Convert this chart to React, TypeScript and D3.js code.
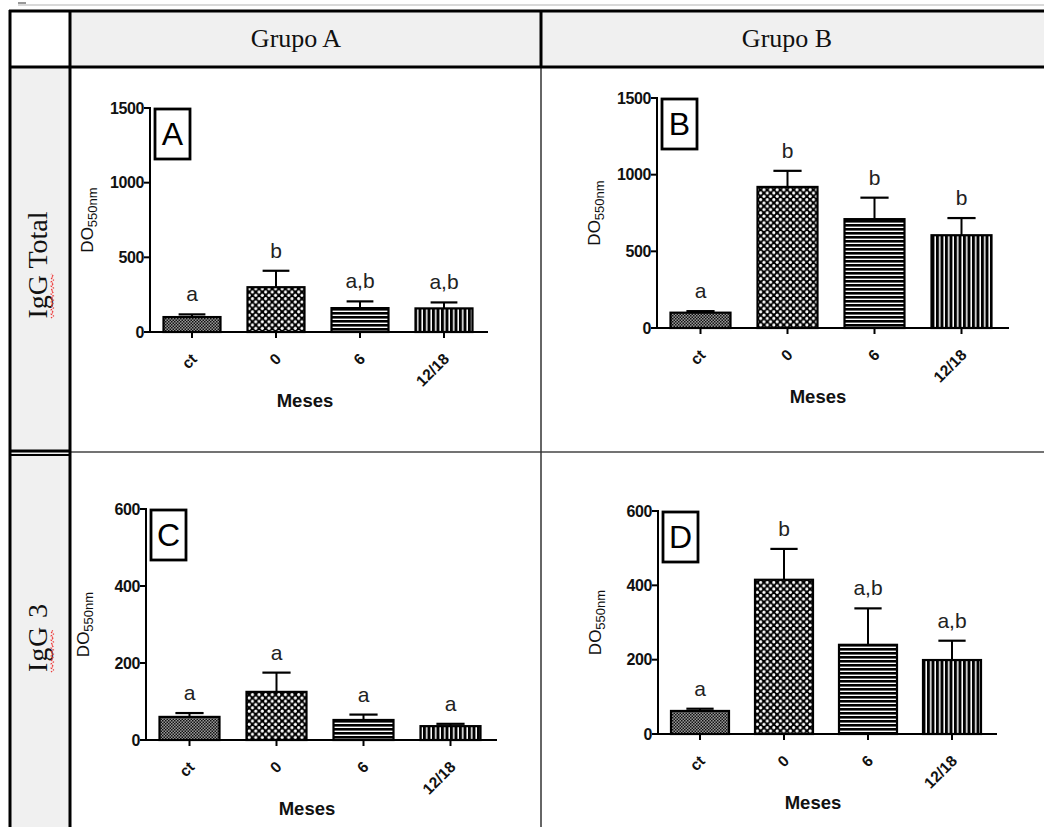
import React from "react";
import * as d3 from "d3";

const categories = ["ct", "0", "6", "12/18"];

// IgG Total
const totalA = [100, 300, 160, 158];
const totalAErr = [18, 110, 45, 40];
const totalALetters = ["a", "b", "a,b", "a,b"];
const totalB = [100, 920, 710, 605];
const totalBErr = [10, 105, 140, 112];
const totalBLetters = ["a", "b", "b", "b"];

// IgG 3
const igg3A = [60, 125, 52, 36];
const igg3AErr = [10, 50, 14, 6];
const igg3ALetters = ["a", "a", "a", "a"];
const igg3B = [62, 415, 240, 199];
const igg3BErr = [6, 83, 98, 52];
const igg3BLetters = ["a", "b", "a,b", "a,b"];

const totalTicks = [0, 500, 1000, 1500];
const igg3Ticks = [0, 200, 400, 600];
const fills = ["url(#pFine)", "url(#pCheck)", "url(#pHoriz)", "url(#pVert)"];

const sans = "'Liberation Sans', Arial, sans-serif";
const serif = "'Liberation Serif', 'Times New Roman', serif";

type PanelProps = {
  tag: string;
  values: number[];
  errs: number[];
  letters: string[];
  ticks: number[];
  x0: number;
  y0: number;
  w: number;
  h: number;
  axisEnd: number;
  barW: number;
};

function Panel({ tag, values, errs, letters, ticks, x0, y0, w, h, axisEnd, barW }: PanelProps) {
  const x = d3.scaleBand<string>().domain(categories).range([x0, x0 + w]);
  const y = d3
    .scaleLinear()
    .domain([0, ticks[ticks.length - 1]])
    .range([y0, y0 - h]);
  const step = x.step();
  const bw = barW;
  const capW = bw * 0.47;

  return (
    <g>
      {/* bars */}
      {categories.map((c, i) => {
        const cx = x(c)! + step / 2;
        const top = y(values[i]);
        const errTop = y(values[i] + errs[i]);
        return (
          <g key={c}>
            <line x1={cx} x2={cx} y1={top} y2={errTop} stroke="#000" strokeWidth={2} />
            <line x1={cx - capW / 2} x2={cx + capW / 2} y1={errTop} y2={errTop} stroke="#000" strokeWidth={2.2} />
            <rect
              x={cx - bw / 2}
              y={top}
              width={bw}
              height={y0 - top}
              fill={fills[i]}
              stroke="#000"
              strokeWidth={2.2}
            />
            <text
              x={cx}
              y={errTop - 13}
              textAnchor="middle"
              fontFamily={sans}
              fontSize={21}
              fill="#222"
            >
              {letters[i]}
            </text>
            <line x1={cx} x2={cx} y1={y0} y2={y0 + 6} stroke="#000" strokeWidth={2} />
            <text
              transform={`translate(${cx + 6},${y0 + 28}) rotate(-45)`}
              textAnchor="end"
              fontFamily={sans}
              fontWeight="bold"
              fontSize={15.5}
              fill="#111"
            >
              {c}
            </text>
          </g>
        );
      })}

      {/* axes */}
      <line x1={x0} x2={x0} y1={y0 + 1} y2={y0 - h - 1} stroke="#000" strokeWidth={2} />
      <line x1={x0 - 6} x2={axisEnd} y1={y0} y2={y0} stroke="#000" strokeWidth={2} />
      {ticks.map((t) => (
        <g key={t}>
          <line x1={x0 - 6} x2={x0} y1={y(t)} y2={y(t)} stroke="#000" strokeWidth={2} />
          <text
            x={x0 - 6}
            y={y(t)}
            dy="0.36em"
            textAnchor="end"
            fontFamily={sans}
            fontWeight="bold"
            fontSize={16}
            letterSpacing={-0.4}
            fill="#111"
          >
            {t}
          </text>
        </g>
      ))}

      {/* y label */}
      <text
        transform={`translate(${x0 - 57},${y0 - h / 2}) rotate(-90)`}
        textAnchor="middle"
        fontFamily={sans}
        fontSize={17}
        fill="#111"
      >
        DO
        <tspan fontSize={13} dy={4}>550nm</tspan>
      </text>

      {/* x label */}
      <text
        x={x0 + w / 2 - 13}
        y={y0 + 75}
        textAnchor="middle"
        fontFamily={sans}
        fontWeight="bold"
        fontSize={18.5}
        fill="#111"
      >
        Meses
      </text>

      {/* panel tag */}
      <rect x={x0 + 5} y={y0 - h + 1} width={35} height={50} fill="#fff" stroke="#000" strokeWidth={2.8} />
      <text
        x={x0 + 5 + 17.5}
        y={y0 - h + 37}
        textAnchor="middle"
        fontFamily={sans}
        fontSize={32}
        fill="#000"
      >
        {tag}
      </text>
    </g>
  );
}

function Squiggle({ x, y1, y2 }: { x: number; y1: number; y2: number }) {
  const pts: [number, number][] = [];
  let k = 0;
  for (let yy = y1; yy >= y2; yy -= 2) {
    pts.push([x + (k % 2 ? 1.5 : -1), yy]);
    k++;
  }
  return <path d={d3.line()(pts) || ""} fill="none" stroke="#e33" strokeWidth={1.1} strokeDasharray="1.5 1" />;
}

export default function App() {
  return (
    <svg
      width={1044}
      height={827}
      style={{ position: "absolute", left: 0, top: 0, background: "#fff" }}
    >
      <defs>
        <pattern id="pFine" patternUnits="userSpaceOnUse" width={3} height={3}>
          <rect width={3} height={3} fill="#999" />
          <rect width={1.5} height={1.5} fill="#111" />
          <rect x={1.5} y={1.5} width={1.5} height={1.5} fill="#111" />
        </pattern>
        <pattern id="pCheck" patternUnits="userSpaceOnUse" width={6.6} height={6.6}>
          <rect width={6.6} height={6.6} fill="#000" />
          <circle cx={1.65} cy={1.65} r={1.55} fill="#fff" />
          <circle cx={4.95} cy={4.95} r={1.55} fill="#fff" />
        </pattern>
        <pattern id="pHoriz" patternUnits="userSpaceOnUse" width={4} height={4}>
          <rect width={4} height={4} fill="#000" />
          <rect y={2.6} width={4} height={1.4} fill="#fff" />
        </pattern>
        <pattern id="pVert" patternUnits="userSpaceOnUse" width={4.5} height={4.5}>
          <rect width={4.5} height={4.5} fill="#000" />
          <rect x={3} width={1.5} height={4.5} fill="#fff" />
        </pattern>
      </defs>

      {/* table background */}
      <line x1={18} x2={1044} y1={5} y2={5} stroke="#ccc" strokeWidth={1.5} />
      <line x1={18} x2={26} y1={3} y2={3} stroke="#777" strokeWidth={1.5} />
      <rect x={70} y={11} width={980} height={56} fill="#f0f0f0" />
      <rect x={10} y={67} width={60} height={770} fill="#f0f0f0" />

      {/* thin body grid */}
      <line x1={70} x2={1044} y1={452} y2={452} stroke="#444" strokeWidth={1.5} />
      <line x1={541} x2={541} y1={67} y2={827} stroke="#333" strokeWidth={1.5} />

      {/* thick borders */}
      <g stroke="#000" strokeWidth={3} fill="none">
        <line x1={9} x2={1044} y1={11} y2={11} />
        <line x1={9} x2={1044} y1={67} y2={67} />
        <line x1={10} x2={10} y1={10} y2={827} />
        <line x1={70} x2={70} y1={10} y2={827} />
        <line x1={541} x2={541} y1={10} y2={67} />
        <line x1={9} x2={71} y1={451} y2={451} />
        <line x1={9} x2={71} y1={455} y2={455} strokeWidth={2} />
      </g>

      {/* headers */}
      <text x={296} y={47} textAnchor="middle" fontFamily={serif} fontSize={26} fill="#111">
        Grupo A
      </text>
      <text x={787} y={47} textAnchor="middle" fontFamily={serif} fontSize={26} fill="#111">
        Grupo B
      </text>
      <text
        transform="translate(47,265) rotate(-90)"
        textAnchor="middle"
        fontFamily={serif}
        fontSize={28}
        fill="#111"
      >
        IgG Total
      </text>
      <Squiggle x={52} y1={318} y2={274} />
      <text
        transform="translate(47,638) rotate(-90)"
        textAnchor="middle"
        fontFamily={serif}
        fontSize={28}
        fill="#111"
        textLength={68}
        lengthAdjust="spacing"
      >
        IgG 3
      </text>
      <Squiggle x={52} y1={672} y2={630} />

      <Panel tag="A" values={totalA} errs={totalAErr} letters={totalALetters} ticks={totalTicks}
        x0={150} y0={332} w={336} h={224} axisEnd={488} barW={57} />
      <Panel tag="B" values={totalB} errs={totalBErr} letters={totalBLetters} ticks={totalTicks}
        x0={657} y0={328} w={348} h={230} axisEnd={1009} barW={60} />
      <Panel tag="C" values={igg3A} errs={igg3AErr} letters={igg3ALetters} ticks={igg3Ticks}
        x0={146} y0={740} w={348} h={231} axisEnd={497} barW={60} />
      <Panel tag="D" values={igg3B} errs={igg3BErr} letters={igg3BLetters} ticks={igg3Ticks}
        x0={658} y0={734} w={336} h={223} axisEnd={997} barW={58} />
    </svg>
  );
}
